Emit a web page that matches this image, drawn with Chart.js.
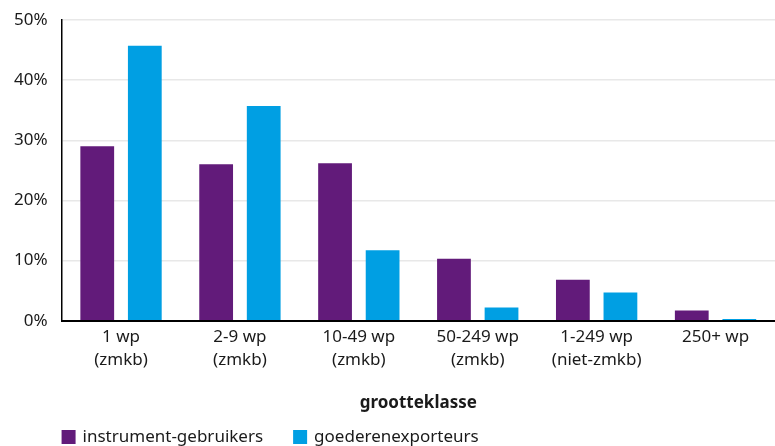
<!DOCTYPE html>
<html>
<head>
<meta charset="utf-8">
<script src="https://cdn.jsdelivr.net/npm/chart.js@4"></script>
<style>
  html, body { margin: 0; padding: 0; background: #fff; }
  #wrap { width: 775px; height: 446px; position: relative; overflow: hidden; }
</style>
</head>
<body>
<div id="wrap"><canvas id="grafiek"></canvas></div>
<script>
// categorieen en waarden (percentages)
const klassen = [
  ["1 wp", "(zmkb)"],
  ["2-9 wp", "(zmkb)"],
  ["10-49 wp", "(zmkb)"],
  ["50-249 wp", "(zmkb)"],
  ["1-249 wp", "(niet-zmkb)"],
  ["250+ wp"]
];
const instrumentGebruikers = [29.0, 26.0, 26.2, 10.3, 6.8, 1.7];
const goederenExporteurs = [45.7, 35.7, 11.7, 2.2, 4.7, 0.3];
const yTicks = [0, 10, 20, 30, 40, 50];

const lettertype = "'Noto Sans', sans-serif";
const tekstKleur = "#1a1a1a";

// eigen legenda linksonder, gelijk met de y-as
const legendaPlugin = {
  id: "legendaOnder",
  afterDraw(chart) {
    const ctx = chart.ctx;
    const y = 437;
    let x = chart.chartArea.left;
    ctx.save();
    ctx.font = "17px " + lettertype;
    ctx.textBaseline = "middle";
    chart.data.datasets.forEach((ds) => {
      ctx.fillStyle = ds.backgroundColor;
      ctx.fillRect(x, y - 7, 14, 14);
      ctx.fillStyle = tekstKleur;
      ctx.fillText(ds.label, x + 21, y);
      x += 21 + ctx.measureText(ds.label).width + 30;
    });
    ctx.restore();
  }
};

const ctx = document.getElementById("grafiek").getContext("2d");
new Chart(ctx, {
  type: "bar",
  data: {
    labels: klassen,
    datasets: [
      {
        label: "instrument-gebruikers",
        data: instrumentGebruikers,
        backgroundColor: "#621b7a",
        categoryPercentage: 0.8,
        barPercentage: 0.71
      },
      {
        label: "goederenexporteurs",
        data: goederenExporteurs,
        backgroundColor: "#009fe3",
        categoryPercentage: 0.8,
        barPercentage: 0.71
      }
    ]
  },
  options: {
    responsive: true,
    maintainAspectRatio: false,
    animation: false,
    // het origineel loopt rechts iets buiten beeld door
    layout: { padding: { top: 20, right: -7, left: 0, bottom: 33 } },
    plugins: {
      legend: { display: false },
      tooltip: { enabled: false }
    },
    scales: {
      x: {
        afterFit: (s) => { s.paddingRight = 0; },
        grid: { display: false, drawTicks: false },
        border: { color: "#000", width: 2 },
        ticks: {
          color: tekstKleur,
          font: { family: lettertype, size: 17, lineHeight: 1.35 },
          padding: 5,
          maxRotation: 0,
          autoSkip: false
        },
        title: {
          display: true,
          text: "grootteklasse",
          color: tekstKleur,
          font: { family: lettertype, size: 17, weight: "bold" },
          padding: { top: 16, bottom: 0 }
        }
      },
      y: {
        min: 0,
        max: 50,
        afterFit: (s) => { s.paddingTop = 0; },
        afterBuildTicks: (axis) => {
          axis.ticks = yTicks.map((v) => ({ value: v }));
        },
        grid: { color: "#e8e8e8", lineWidth: 1.5, drawTicks: false },
        border: { color: "#000", width: 1.5 },
        ticks: {
          color: tekstKleur,
          font: { family: lettertype, size: 17 },
          padding: 14,
          callback: (v) => v + "%"
        }
      }
    }
  },
  plugins: [legendaPlugin]
});
</script>
</body>
</html>
